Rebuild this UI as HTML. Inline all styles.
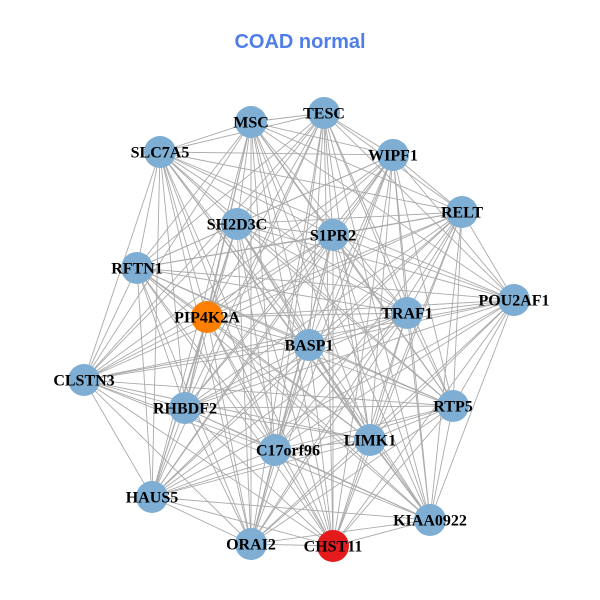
<!DOCTYPE html>
<html><head><meta charset="utf-8"><style>
html,body{margin:0;padding:0;background:#fff;}
svg{display:block}
.l{font-family:"Liberation Serif",serif;font-weight:bold;font-size:16px;fill:#000;text-anchor:middle;dominant-baseline:central}
</style></head><body>
<svg id="s" width="600" height="600" viewBox="0 0 600 600">
<text x="300" y="42" font-family="Liberation Sans,sans-serif" font-weight="bold" font-size="20" fill="#4f7ee8" text-anchor="middle" dominant-baseline="central">COAD normal</text>
<g id="e" stroke="#aaaaaa" stroke-width="0.9"></g>
<g id="n"></g>
<g>
<text class="l" x="251" y="123">MSC</text>
<text class="l" x="324" y="114">TESC</text>
<text class="l" x="160" y="153">SLC7A5</text>
<text class="l" x="393" y="156">WIPF1</text>
<text class="l" x="462" y="213">RELT</text>
<text class="l" x="237" y="225">SH2D3C</text>
<text class="l" x="333" y="236">S1PR2</text>
<text class="l" x="137" y="269">RFTN1</text>
<text class="l" x="514" y="301">POU2AF1</text>
<text class="l" x="207" y="318">PIP4K2A</text>
<text class="l" x="407" y="314">TRAF1</text>
<text class="l" x="309" y="346">BASP1</text>
<text class="l" x="84" y="381">CLSTN3</text>
<text class="l" x="185" y="409">RHBDF2</text>
<text class="l" x="453" y="407">RTP5</text>
<text class="l" x="370" y="441">LIMK1</text>
<text class="l" x="288" y="451">C17orf96</text>
<text class="l" x="152" y="498">HAUS5</text>
<text class="l" x="430" y="521">KIAA0922</text>
<text class="l" x="251" y="545">ORAI2</text>
<text class="l" x="333" y="547">CHST11</text>
</g>
</svg>
<script>
var N=[[251,122],[324,113],[160,152],[393,155],[462,212],[237,224],[333,235],[137,268],[514,300],[207,317],[407,313],[309,345],[84,380],[185,408],[453,406],[370,440],[275,450],[152,497],[430,520],[251,544],[333,546]];
var ns="http://www.w3.org/2000/svg",e=document.getElementById("e"),g=document.getElementById("n");
for(var i=0;i<N.length;i++)for(var j=i+1;j<N.length;j++){var l=document.createElementNS(ns,"line");l.setAttribute("x1",N[i][0]);l.setAttribute("y1",N[i][1]);l.setAttribute("x2",N[j][0]);l.setAttribute("y2",N[j][1]);e.appendChild(l);}
for(var i=0;i<N.length;i++){var c=document.createElementNS(ns,"circle");c.setAttribute("cx",N[i][0]);c.setAttribute("cy",N[i][1]);c.setAttribute("r",16);c.setAttribute("fill",i==9?"#ff8000":i==20?"#e41a1c":"#7eaed3");g.appendChild(c);}
</script>
</body></html>
